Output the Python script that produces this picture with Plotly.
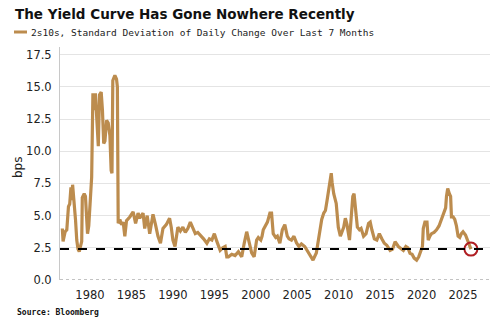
import plotly.graph_objects as go

years = [1976.66, 1976.75, 1977.0, 1977.2, 1977.4, 1977.55, 1977.7, 1977.8, 1977.9, 1978.1,
         1978.25, 1978.4, 1978.55, 1978.7, 1978.85, 1979.0, 1979.07, 1979.3, 1979.45, 1979.6,
         1979.7, 1979.85, 1980.0, 1980.2, 1980.35, 1980.5, 1980.65, 1980.85, 1981.0, 1981.15,
         1981.35, 1981.5, 1981.65, 1981.8, 1982.0, 1982.2, 1982.4, 1982.55, 1982.65, 1982.75,
         1983.0, 1983.2, 1983.3, 1983.4, 1983.6, 1983.8, 1984.0, 1984.2, 1984.4, 1984.8,
         1985.2, 1985.5, 1985.8, 1986.0, 1986.4, 1986.6, 1986.9, 1987.2, 1987.6, 1987.9,
         1988.2, 1988.5, 1988.8, 1989.2, 1989.6, 1989.8, 1990.0, 1990.25, 1990.6, 1990.9,
         1991.2, 1991.5, 1991.8, 1992.1, 1992.4, 1992.7, 1993.0, 1993.3, 1993.7, 1994.1,
         1994.4, 1994.7, 1995.0, 1995.3, 1995.7, 1996.0, 1996.3, 1996.5, 1996.7, 1997.1,
         1997.5, 1997.9, 1998.3, 1998.6, 1998.9, 1999.1, 1999.5, 1999.8, 2000.1, 2000.3,
         2000.6, 2000.75, 2000.9, 2001.4, 2001.7, 2001.9, 2002.1, 2002.4, 2002.6, 2002.9,
         2003.2, 2003.5, 2003.8, 2004.0, 2004.3, 2004.6, 2004.9, 2005.2, 2005.5, 2005.9,
         2006.25, 2006.5, 2006.9, 2007.3, 2007.7, 2007.95, 2008.2, 2008.4, 2008.6, 2008.8,
         2008.95, 2009.1, 2009.2, 2009.4, 2009.7, 2009.95, 2010.2, 2010.6, 2010.8, 2011.0,
         2011.3, 2011.45, 2011.7, 2011.85, 2012.05, 2012.25, 2012.5, 2012.7, 2013.0, 2013.3,
         2013.6, 2013.8, 2014.0, 2014.3, 2014.6, 2014.9, 2015.2, 2015.5, 2015.8, 2016.2,
         2016.5, 2016.8, 2017.2, 2017.5, 2017.8, 2018.1, 2018.35, 2018.6, 2018.85, 2019.1,
         2019.4, 2019.65, 2019.9, 2020.1, 2020.2, 2020.4, 2020.65, 2020.8, 2021.0, 2021.2,
         2021.5, 2021.8, 2022.1, 2022.4, 2022.75, 2022.9, 2023.0, 2023.15, 2023.35, 2023.5,
         2023.6, 2023.8, 2024.0, 2024.2, 2024.4, 2024.6, 2024.8, 2025.0, 2025.3, 2025.55,
         2025.7, 2025.95]

std_bps = [4.0, 3.0, 3.75, 3.9, 5.7, 5.9, 7.2, 6.2, 7.4, 6.0,
           4.7, 3.1, 2.4, 2.2, 2.6, 3.0, 6.4, 6.7, 6.5, 4.2,
           3.6, 4.2, 6.0, 8.0, 14.5, 13.2, 14.5, 12.0, 10.4, 14.4,
           14.6, 13.2, 10.6, 10.8, 12.4, 12.2, 11.2, 8.5, 8.3, 15.5,
           15.9, 15.6, 15.0, 4.4, 4.7, 4.3, 4.5, 3.4, 4.6, 4.9,
           5.3, 4.4, 5.2, 4.8, 5.2, 4.0, 5.0, 3.6, 5.1, 4.3,
           3.4, 2.85, 4.0, 4.3, 4.8, 4.1, 3.1, 2.6, 4.1, 3.8,
           4.1, 3.7, 4.0, 4.5, 4.1, 3.6, 3.7, 3.5, 3.2, 2.85,
           3.2, 3.1, 3.6, 3.0, 2.3, 2.5, 2.6, 1.8, 1.8, 2.0,
           1.9, 2.2, 1.8, 2.85, 3.75, 3.2, 2.1, 1.8, 3.1, 3.3,
           3.1, 3.4, 3.9, 4.5, 5.2, 5.2, 3.6, 3.3, 3.4, 2.85,
           3.9, 4.3, 3.4, 3.2, 3.1, 3.4, 2.9, 2.6, 2.8, 2.6,
           2.2, 1.9, 1.55, 2.1, 3.6, 4.7, 5.2, 5.4, 6.2, 7.0,
           7.5, 8.3, 7.6, 6.7, 5.95, 4.1, 3.4, 4.1, 4.8, 4.3,
           3.1, 4.7, 6.5, 6.7, 5.2, 4.1, 3.9, 4.0, 3.4, 3.6,
           4.4, 4.5, 3.9, 3.2, 3.1, 3.6, 3.2, 2.85, 2.7, 2.3,
           2.4, 2.97, 2.6, 2.46, 2.3, 2.6, 2.5, 2.07, 2.0, 1.7,
           1.55, 1.8, 2.2, 2.6, 4.0, 4.5, 4.5, 3.1, 3.4, 3.6,
           3.7, 3.9, 4.2, 4.7, 5.2, 5.6, 6.5, 7.1, 6.7, 6.5,
           4.9, 4.9, 4.7, 4.2, 3.4, 3.3, 3.6, 3.75, 3.5, 3.1,
           2.7, 2.4]

threshold = 2.4
x_ticks = [1980, 1985, 1990, 1995, 2000, 2005, 2010, 2015, 2020, 2025]
y_ticks = [0, 2.5, 5, 7.5, 10, 12.5, 15, 17.5]

title_text = "The Yield Curve Has Gone Nowhere Recently"
series_name = "2s10s, Standard Deviation of Daily Change Over Last 7 Months"
source_text = "Source: Bloomberg"

LINE = "#BC8C4E"
W, H = 500, 322
L, R, T, B = 60, 10, 47, 42
PW, PH = W - L - R, H - T - B

def px(x):
    return (x - L) / PW

def py(y):
    return (H - B - y) / PH

fig = go.Figure()
fig.add_trace(go.Scatter(x=years, y=std_bps, mode="lines",
                         line=dict(color=LINE, width=3.2), showlegend=False, hoverinfo="skip"))
fig.add_trace(go.Scatter(x=[years[-1]], y=[std_bps[-1]], mode="markers",
                         marker=dict(symbol="circle-open", size=13, color="#B01E23",
                                     line=dict(width=2, color="#B01E23")),
                         showlegend=False, hoverinfo="skip"))

shapes = [
    dict(type="line", xref="paper", yref="y", x0=0, x1=1, y0=threshold, y1=threshold,
         line=dict(color="black", width=2, dash="dash"), layer="above"),
    dict(type="line", xref="paper", yref="y", x0=0, x1=1, y0=0, y1=0,
         line=dict(color="#b0b0b0", width=1.5, dash="dot"), layer="below"),
    dict(type="line", xref="paper", yref="paper", x0=px(14), x1=px(27), y0=py(32), y1=py(32),
         line=dict(color=LINE, width=3)),
]

annotations = [
    dict(text="<b>" + title_text + "</b>", xref="paper", yref="paper", x=px(13), y=py(14),
         xanchor="left", yanchor="middle", showarrow=False,
         font=dict(family="DejaVu Sans", size=13.5, color="#111")),
    dict(text=series_name, xref="paper", yref="paper", x=px(29), y=py(32),
         xanchor="left", yanchor="middle", showarrow=False,
         font=dict(family="DejaVu Sans Mono", size=9.5, color="#222")),
    dict(text="bps", xref="paper", yref="paper", x=px(18), y=py(167), textangle=-90,
         xanchor="center", yanchor="middle", showarrow=False,
         font=dict(family="DejaVu Sans", size=12, color="#222")),
    dict(text="<b>" + source_text + "</b>", xref="paper", yref="paper", x=px(15), y=py(312),
         xanchor="left", yanchor="middle", showarrow=False,
         font=dict(family="DejaVu Sans Mono", size=8, color="#111")),
]

fig.update_layout(
    width=W, height=H, margin=dict(l=L, r=R, t=T, b=B, pad=0),
    paper_bgcolor="white", plot_bgcolor="white",
    shapes=shapes, annotations=annotations, showlegend=False,
    font=dict(family="DejaVu Sans", size=11, color="#222"),
    xaxis=dict(range=[1976.38, 2028.25], tickvals=x_ticks, showgrid=False, zeroline=False,
               showline=False, ticks="", ticklabelstandoff=6,
               tickfont=dict(family="DejaVu Sans", size=11.5, color="#222")),
    yaxis=dict(range=[0, 18.1], tickvals=y_ticks, tickformat=".1f", showgrid=True,
               gridcolor="#e4e4e4", gridwidth=1, zeroline=False, showline=True,
               linecolor="#c8c8c8", linewidth=1, ticks="", ticklabelstandoff=5,
               tickfont=dict(family="DejaVu Sans", size=11.5, color="#222")),
)

fig.write_html("out.html")
